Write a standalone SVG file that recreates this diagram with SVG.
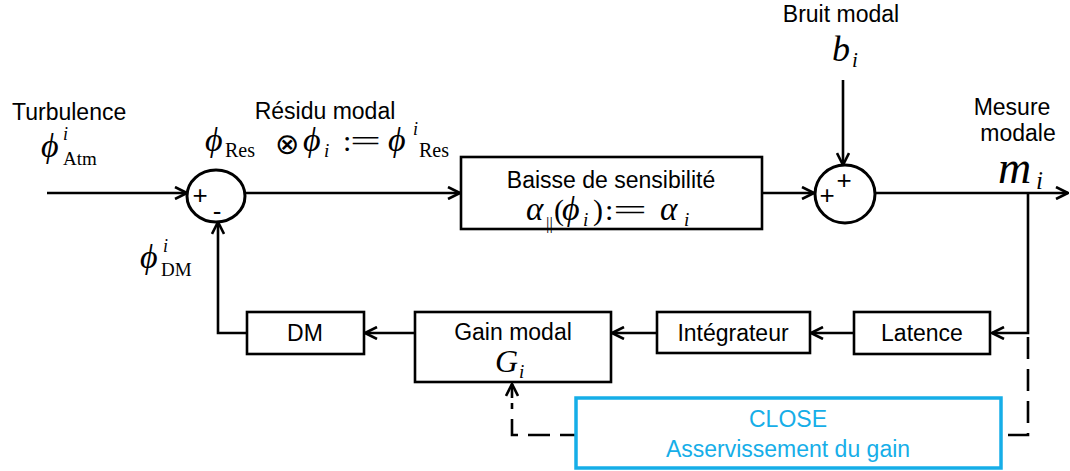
<svg xmlns="http://www.w3.org/2000/svg" width="1070" height="471" viewBox="0 0 1070 471">
<defs>
<marker id="arr" viewBox="0 0 14 14" refX="13" refY="7" markerWidth="14" markerHeight="14" markerUnits="userSpaceOnUse" orient="auto">
<path d="M1,1 L13,7 L1,13" fill="none" stroke="#000" stroke-width="2.6"/>
</marker>
</defs>
<style>
.box{fill:#fff;stroke:#000;stroke-width:2.6}
.sum{fill:#fff;stroke:#000;stroke-width:3}
.line{fill:none;stroke:#000;stroke-width:2.6}
.dash{fill:none;stroke:#000;stroke-width:2.6;stroke-dasharray:22 10}
.lbl{font-family:"Liberation Sans",Arial,sans-serif;font-size:23px;fill:#000}
.blue{font-family:"Liberation Sans",Arial,sans-serif;font-size:23px;fill:#16aee8}
.sgn{font-family:"Liberation Sans",Arial,sans-serif;font-size:26px;fill:#000}
.mi{font-family:"Liberation Serif","DejaVu Serif",serif;font-style:italic;fill:#000}
.mr{font-family:"Liberation Serif","DejaVu Serif",serif;fill:#000}
.ms{font-family:"DejaVu Sans","Liberation Sans",sans-serif;fill:#000}
</style>
<g id="connectors">
<line class="line" x1="47" y1="193" x2="187" y2="193" marker-end="url(#arr)"/>
<line class="line" x1="245" y1="193" x2="460" y2="193" marker-end="url(#arr)"/>
<line class="line" x1="762" y1="193" x2="814" y2="193" marker-end="url(#arr)"/>
<line class="line" x1="843" y1="80" x2="843" y2="165" marker-end="url(#arr)"/>
<line class="line" x1="875" y1="193" x2="1068" y2="193" marker-end="url(#arr)"/>
<polyline class="line" points="1028,193 1028,333 992,333" marker-end="url(#arr)"/>
<line class="line" x1="854" y1="333" x2="811" y2="333" marker-end="url(#arr)"/>
<line class="line" x1="657" y1="333" x2="612" y2="333" marker-end="url(#arr)"/>
<line class="line" x1="415" y1="333" x2="365" y2="333" marker-end="url(#arr)"/>
<polyline class="line" points="247,333 218,333 218,222" marker-end="url(#arr)"/>
<path class="dash" d="M1028,337 V435 H512 V403"/>
<line class="line" x1="512" y1="398" x2="512" y2="384" marker-end="url(#arr)"/>
</g>
<g id="sum1">
<ellipse class="sum" cx="216" cy="196" rx="29" ry="26"/>
<text class="sgn" x="200" y="204" text-anchor="middle">+</text>
<text class="sgn" x="217" y="220" text-anchor="middle">-</text>
</g>
<g id="sum2">
<ellipse class="sum" cx="845" cy="194" rx="30" ry="29"/>
<text class="sgn" x="844" y="189" text-anchor="middle">+</text>
<text class="sgn" x="827" y="204" text-anchor="middle">+</text>
</g>
<g id="baisse">
<rect class="box" x="461" y="157" width="301" height="72"/>
<text class="lbl" x="611" y="188" text-anchor="middle">Baisse de sensibilité</text>
<text class="mi" x="526" y="220" font-size="33">α</text>
<text class="mr" x="546" y="229" font-size="17">||</text>
<text class="mr" x="554" y="220" font-size="30">(</text>
<text class="mi" x="562" y="220" font-size="34">ϕ</text>
<text class="mi" x="583" y="226" font-size="19">i</text>
<text class="mr" x="593" y="220" font-size="30">)</text>
<text class="mr" x="605" y="220" font-size="30">:</text>
<text class="mr" x="613" y="220" font-size="30" textLength="34" lengthAdjust="spacingAndGlyphs">=</text>
<text class="mi" x="660" y="220" font-size="33">α</text>
<text class="mi" x="684" y="226" font-size="19">i</text>
</g>
<g id="dm">
<rect class="box" x="247" y="312" width="117" height="42"/>
<text class="lbl" x="305" y="341" text-anchor="middle">DM</text>
</g>
<g id="gain">
<rect class="box" x="415" y="312" width="196" height="70"/>
<text class="lbl" x="513" y="340" text-anchor="middle">Gain modal</text>
<text class="mi" x="495" y="372" font-size="32">G</text>
<text class="mi" x="519" y="378" font-size="19">i</text>
</g>
<g id="integrateur">
<rect class="box" x="657" y="312" width="153" height="41"/>
<text class="lbl" x="733" y="341" text-anchor="middle">Intégrateur</text>
</g>
<g id="latence">
<rect class="box" x="854" y="312" width="136" height="42"/>
<text class="lbl" x="922" y="341" text-anchor="middle">Latence</text>
</g>
<g id="close">
<rect x="576" y="398" width="425" height="70" fill="#fff" stroke="#16aee8" stroke-width="3.5"/>
<text class="blue" x="788" y="427" text-anchor="middle">CLOSE</text>
<text class="blue" x="788" y="457" text-anchor="middle">Asservissement du gain</text>
</g>
<g id="turbulence">
<text class="lbl" x="12" y="120">Turbulence</text>
<text class="mi" x="41" y="157" font-size="34">ϕ</text>
<text class="mi" x="63" y="140" font-size="18">i</text>
<text class="mr" x="63" y="165" font-size="19">Atm</text>
</g>
<g id="residu">
<text class="lbl" x="325" y="119" text-anchor="middle">Résidu modal</text>
<text class="mi" x="205" y="151" font-size="34">ϕ</text>
<text class="mr" x="225" y="157" font-size="20">Res</text>
<text class="ms" x="275" y="154" font-size="29">⊗</text>
<text class="mi" x="303" y="151" font-size="34">ϕ</text>
<text class="mi" x="324" y="157" font-size="19">i</text>
<text class="mr" x="343" y="151" font-size="30">:</text>
<text class="mr" x="350" y="151" font-size="30" textLength="31" lengthAdjust="spacingAndGlyphs">=</text>
<text class="mi" x="388" y="151" font-size="34">ϕ</text>
<text class="mi" x="413" y="135" font-size="18">i</text>
<text class="mr" x="419" y="157" font-size="20">Res</text>
</g>
<g id="dm-label">
<text class="mi" x="140" y="268" font-size="34">ϕ</text>
<text class="mi" x="163" y="252" font-size="18">i</text>
<text class="mr" x="161" y="276" font-size="19">DM</text>
</g>
<g id="bruit">
<text class="lbl" x="841" y="22" text-anchor="middle">Bruit modal</text>
<text class="mi" x="832" y="61" font-size="36">b</text>
<text class="mi" x="852" y="67" font-size="21">i</text>
</g>
<g id="mesure">
<text class="lbl" x="1012" y="115" text-anchor="middle">Mesure</text>
<text class="lbl" x="1018" y="141" text-anchor="middle">modale</text>
<text class="mi" x="998" y="183" font-size="46">m</text>
<text class="mi" x="1036" y="189" font-size="25">i</text>
</g>
</svg>
